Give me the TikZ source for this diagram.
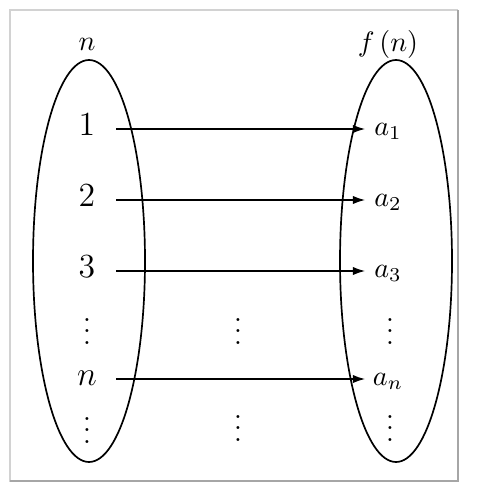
\documentclass[tikz,border=0pt]{standalone}
\usepackage{amsmath}
\usepackage{tikz}
\usetikzlibrary{arrows.meta,calc,positioning}

\begin{document}
\begin{tikzpicture}[
  x=0.0125cm, y=-0.0125cm,
  src/.style={minimum width=0.5cm, inner sep=1pt, text height=1.6ex, text depth=0.5ex, font=\large},
  img/.style={minimum width=0.55cm, inner sep=1pt, text height=1.6ex, text depth=0.5ex},
  dots/.style={inner sep=1pt},
  setbd/.style={draw, line width=0.6pt},
  arr/.style={-{Latex[length=4.5pt,width=3pt]}, line width=0.7pt, shorten <=3pt}
]
\useasboundingbox (0,0) rectangle (484,485);
% frame
\draw[gray!35, line width=0.8pt] (458,481) -- (10,481) -- (10,10) -- (458,10);
\draw[gray!70, line width=1pt] (10,481) -- (458,481) -- (458,10);

% the two sets
\draw[setbd] (89,261) ellipse [x radius=56, y radius=201];
\draw[setbd] (396,261) ellipse [x radius=56, y radius=201];
\node (N) at (87,44) {$n$};
\node (F) at (388,44) {$f\,(n)$};

% elements
\node[src] (n1) at (87,129) {1};
\node[src] (n2) at (87,200) {2};
\node[src] (n3) at (87,271) {3};
\node[dots] (nd1) at (87,323) {$\vdots$};
\node[src] (nn) at (87,379) {$n$};
\node[dots] (nd2) at (87,422) {$\vdots$};

\node[img] (a1) at (388,129) {$a_1$};
\node[img] (a2) at (388,200) {$a_2$};
\node[img] (a3) at (388,271) {$a_3$};
\node[dots] (ad1) at (390,323) {$\vdots$};
\node[img] (an) at (388,379) {$a_n$};
\node[dots] (ad2) at (390,420) {$\vdots$};

\node[dots] (md1) at (238,323) {$\vdots$};
\node[dots] (md2) at (238,420) {$\vdots$};

\draw[arr] (n1) -- (a1);
\draw[arr] (n2) -- (a2);
\draw[arr] (n3) -- (a3);
\draw[arr] (nn) -- (an);
\end{tikzpicture}
\end{document}
